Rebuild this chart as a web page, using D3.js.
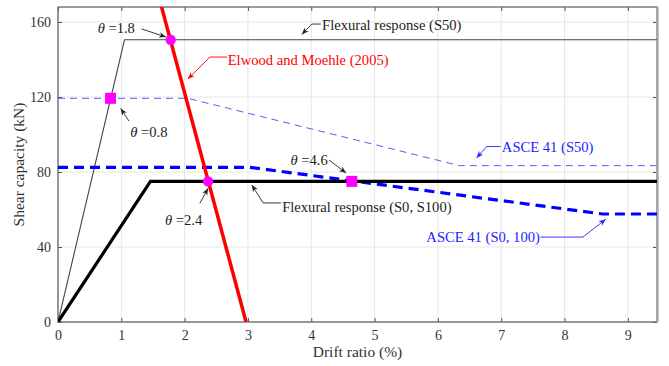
<!DOCTYPE html>
<html>
<head>
<meta charset="utf-8">
<script src="https://cdn.jsdelivr.net/npm/d3@7"></script>
<style>
  body { margin: 0; background: #fff; }
  text { font-family: "Liberation Serif", "DejaVu Serif", serif; }
</style>
</head>
<body>
<div id="chart"></div>
<script>
// drift ratio (%) vs shear capacity (kN)
var flexS50X = [0, 1.05, 9.46];
var flexS50Y = [0, 150.5, 150.5];

var flexS0X = [0, 1.46, 9.46];
var flexS0Y = [0, 75, 75];

var asceS50X = [0, 2.05, 6.34, 9.46];
var asceS50Y = [119.3, 119.3, 83.4, 83.4];

var asceS0X = [0, 3.03, 8.6, 9.46];
var asceS0Y = [82.5, 82.5, 57.6, 57.6];

var elwoodX = [1.58, 2.97];
var elwoodY = [175, 0];

var circleX = [1.78, 2.37];
var circleY = [150.5, 75];
var squareX = [0.83, 4.64];
var squareY = [119.3, 75];

var xTicks = [0, 1, 2, 3, 4, 5, 6, 7, 8, 9];
var yTicks = [0, 40, 80, 120, 160];

// labels with leader arrows (data coordinates)
var notes = [
  { text: "θ =1.8", x: 1.215, y: 156.8, anchor: "end", color: "#222",
    path: [[1.32, 156.3], [1.705, 152]] },
  { text: "Flexural response (S50)", x: 4.17, y: 158.4, anchor: "start", color: "#222",
    path: [[4.15, 158.9], [4.01, 158.9], [3.85, 153.4]] },
  { text: "Elwood and Moehle (2005)", x: 2.68, y: 139.7, anchor: "start", color: "#ff0000",
    path: [[2.67, 141.3], [2.40, 141.3], [2.05, 129.6]] },
  { text: "θ =0.8", x: 1.14, y: 101.5, anchor: "start", color: "#222",
    path: [[1.12, 107.2], [0.99, 113.9]] },
  { text: "θ =4.6", x: 4.26, y: 86.4, anchor: "end", color: "#222",
    path: [[4.28, 86.4], [4.55, 79.5]] },
  { text: "ASCE 41 (S50)", x: 7.01, y: 93.6, anchor: "start", color: "#2222ff",
    path: [[6.99, 93.6], [6.77, 93.6], [6.61, 87.5]] },
  { text: "θ =2.4", x: 1.69, y: 54.7, anchor: "start", color: "#222",
    path: [[2.24, 63.3], [2.37, 71.3]] },
  { text: "Flexural response (S0, S100)", x: 3.54, y: 61.5, anchor: "start", color: "#222",
    path: [[3.52, 63.5], [3.24, 63.5], [3.06, 73.1]] },
  { text: "ASCE 41 (S0, 100)", x: 7.61, y: 45.5, anchor: "end", color: "#2222ff",
    path: [[7.62, 45.3], [8.29, 45.3], [8.65, 54.8]] }
];

var W = 669, H = 366;
var margin = {top: 7, right: 12, bottom: 44, left: 58};

var x = d3.scaleLinear().domain([0, 9.46]).range([margin.left, W - margin.right]);
var y = d3.scaleLinear().domain([0, 168]).range([H - margin.bottom, margin.top]);

var svg = d3.select("#chart").append("svg")
    .attr("width", W)
    .attr("height", H);

svg.append("clipPath").attr("id", "clip")
  .append("rect")
    .attr("x", x(0)).attr("y", y(168))
    .attr("width", x(9.46) - x(0))
    .attr("height", y(0) - y(168));

// grid
svg.append("g").selectAll("line").data(xTicks).join("line")
    .attr("x1", d => x(d)).attr("x2", d => x(d))
    .attr("y1", y(0)).attr("y2", y(168))
    .attr("stroke", "#e6e6e6").attr("stroke-width", 1);
svg.append("g").selectAll("line").data(yTicks).join("line")
    .attr("x1", x(0)).attr("x2", x(9.46))
    .attr("y1", d => y(d)).attr("y2", d => y(d))
    .attr("stroke", "#e6e6e6").attr("stroke-width", 1);

// axes, ticks pointing inward
function styleAxis(g) {
  g.select(".domain").remove();
  g.selectAll(".tick line").attr("stroke", "#555");
  g.selectAll(".tick text").attr("fill", "#333").style("font-size", "14px");
}
svg.append("g")
    .attr("transform", "translate(0," + y(0) + ")")
    .call(d3.axisBottom(x).tickValues(xTicks).tickSizeInner(-4).tickSizeOuter(0).tickPadding(8))
    .call(styleAxis);
svg.append("g")
    .attr("transform", "translate(" + x(0) + ",0)")
    .call(d3.axisLeft(y).tickValues(yTicks).tickSizeInner(-4).tickSizeOuter(0).tickPadding(7))
    .call(styleAxis);
svg.append("g")
    .attr("transform", "translate(0," + y(168) + ")")
    .call(d3.axisTop(x).tickValues(xTicks).tickSizeInner(-4).tickSizeOuter(0).tickFormat(""))
    .call(styleAxis);
svg.append("g")
    .attr("transform", "translate(" + x(9.46) + ",0)")
    .call(d3.axisRight(y).tickValues(yTicks).tickSizeInner(-4).tickSizeOuter(0).tickFormat(""))
    .call(styleAxis);

// frame
svg.append("rect")
    .attr("x", x(0)).attr("y", y(168))
    .attr("width", x(9.46) - x(0))
    .attr("height", y(0) - y(168))
    .attr("fill", "none").attr("stroke", "#666").attr("stroke-width", 1.3);
svg.append("line")
    .attr("x1", x(9.46) + 0.5).attr("x2", x(9.46) + 0.5)
    .attr("y1", y(168)).attr("y2", y(0))
    .attr("stroke", "#aaa").attr("stroke-width", 2.5);

var line = d3.line().x(d => x(d[0])).y(d => y(d[1]));
var plot = svg.append("g").attr("clip-path", "url(#clip)");

function series(xs, ys) { return xs.map((v, i) => [v, ys[i]]); }

plot.append("path").datum(series(asceS50X, asceS50Y))
    .attr("d", line).attr("fill", "none")
    .attr("stroke", "#5a5aff").attr("stroke-width", 1)
    .attr("stroke-dasharray", "7,5");
plot.append("path").datum(series(flexS50X, flexS50Y))
    .attr("d", line).attr("fill", "none")
    .attr("stroke", "#444").attr("stroke-width", 1.1);
plot.append("path").datum(series(asceS0X, asceS0Y))
    .attr("d", line).attr("fill", "none")
    .attr("stroke", "#0000ff").attr("stroke-width", 3.2)
    .attr("stroke-dasharray", "10,6");
plot.append("path").datum(series(flexS0X, flexS0Y))
    .attr("d", line).attr("fill", "none")
    .attr("stroke", "#000").attr("stroke-width", 3.2);
plot.append("path").datum(series(elwoodX, elwoodY))
    .attr("d", line).attr("fill", "none")
    .attr("stroke", "#ff0000").attr("stroke-width", 3.5);

plot.selectAll("circle.pt").data(series(circleX, circleY)).join("circle")
    .attr("class", "pt")
    .attr("cx", d => x(d[0])).attr("cy", d => y(d[1]))
    .attr("r", 5.2).attr("fill", "#ff00ff");
plot.selectAll("rect.pt").data(series(squareX, squareY)).join("rect")
    .attr("class", "pt")
    .attr("x", d => x(d[0]) - 5.5).attr("y", d => y(d[1]) - 5.5)
    .attr("width", 11).attr("height", 11).attr("fill", "#ff00ff");

// annotations
var defs = svg.append("defs");
notes.forEach(function(n, i) {
  defs.append("marker")
      .attr("id", "arr" + i)
      .attr("viewBox", "0 0 10 10")
      .attr("refX", 10).attr("refY", 5)
      .attr("markerWidth", 9).attr("markerHeight", 7)
      .attr("markerUnits", "userSpaceOnUse")
      .attr("orient", "auto")
    .append("path")
      .attr("d", "M0,1 L10,5 L0,9 L3,5 Z")
      .attr("fill", n.color);
});

var ann = svg.append("g");
notes.forEach(function(n, i) {
  ann.append("path")
      .attr("d", line(n.path))
      .attr("fill", "none")
      .attr("stroke", n.color).attr("stroke-width", 0.9)
      .attr("marker-end", "url(#arr" + i + ")");
  var t = ann.append("text")
      .attr("x", x(n.x)).attr("y", y(n.y))
      .attr("dy", "0.35em")
      .attr("text-anchor", n.anchor)
      .attr("fill", n.color)
      .style("font-size", "14.6px");
  if (n.text.charAt(0) === "θ") {
    t.append("tspan").style("font-style", "italic").text("θ");
    t.append("tspan").text(n.text.slice(1));
  } else {
    t.text(n.text);
  }
});

// axis titles
svg.append("text")
    .attr("x", (x(0) + x(9.46)) / 2)
    .attr("y", H - 9)
    .attr("text-anchor", "middle")
    .attr("fill", "#333")
    .style("font-size", "15.5px")
    .text("Drift ratio (%)");
svg.append("text")
    .attr("transform", "translate(19," + ((y(0) + y(168)) / 2) + ") rotate(-90)")
    .attr("dy", "0.35em")
    .attr("text-anchor", "middle")
    .attr("fill", "#333")
    .style("font-size", "15.5px")
    .text("Shear capacity (kN)");
</script>
</body>
</html>
